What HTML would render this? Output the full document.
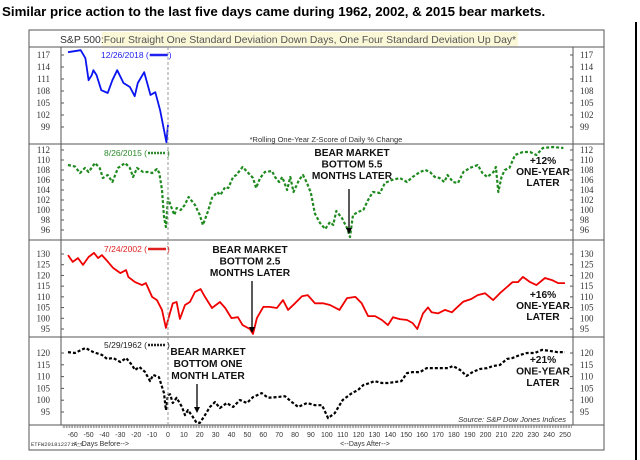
<!DOCTYPE html>
<html><head><meta charset="utf-8"><style>
body{margin:0;background:#fff;width:640px;height:460px;overflow:hidden;font-family:"Liberation Sans",Arial,sans-serif}
svg{position:absolute;left:0;top:0}
</style></head><body>
<svg id="c" width="640" height="460" xmlns="http://www.w3.org/2000/svg"></svg>
<script>
const blueDays=[-63,-55,-52,-50,-48,-47,-45,-42,-38,-35,-32,-28,-24,-21,-19,-15,-11,-8,-5,-1,0];
const blueVals=[117.7,118.2,116.2,110.7,112,113.2,112,108.2,107.5,110.7,113.2,110,109,106.7,110,112.7,107,107.7,103.2,95.2,99.5];
const greenDays=[-63,-58.6,-55.4,-52.3,-50,-46,-43,-41,-38,-35,-31.5,-27,-24,-22,-19.5,-15.7,-12.6,-10,-7,-5.5,-3.8,-2.5,-1.3,0,2,4,5.5,8,10.5,13,17,20,22,25,27.7,31,33,36,38,41,43,47,50,53.5,55.5,58,61,65.5,67.4,70,72,75,77,79,82.5,85,87.5,90,92.5,95.7,99,102,104,106,109.5,112.7,114.6,116.5,119.6,123,126,129,133.5,136.6,141,146,150.5,154,158.7,162,165,168,171,174,176,179.5,182.6,186,190,195,198,201,205,206.5,208,210,212,215,218.5,223.5,228,232,236,242.5,249];
const greenVals=[109,108.7,107.4,108.4,107.6,109.4,108.4,106.4,107,105.6,108.4,109.4,108.4,106.6,108.4,107.6,107.6,107.4,108.2,107.4,104,98.6,96.6,102.4,100.6,99,100.4,100,101,102.6,101,99,97,99.6,102.4,103.6,103,104.6,104.4,106.6,107,108.6,107.6,106.4,104.4,106.4,107.6,107.8,106.6,105.6,106.6,104,106.6,103.6,106,107,105.4,103.4,99.3,97.4,96.2,97.6,97,99.8,98.4,96.4,94.6,99,99.6,100,102,103.6,103.4,105.4,106,106.4,105.6,106.6,107.6,108,107.6,106.6,106.4,105.6,107,105.6,105.4,107.6,108.4,109,107.4,106.6,107.6,108.6,103.6,106.6,108,108.4,111,111.6,111.6,111,112.4,112.6,112.4];
const redDays=[-63,-60,-56.7,-53.5,-50,-46.6,-44,-41.6,-37.8,-34.6,-30,-26.4,-25,-20.8,-16.4,-13.9,-10,-7,-3.8,-1.3,0,3,5.4,7.5,10.7,13.8,17,20.5,23.3,27.7,32.7,36,40,44,47,51.6,53.5,56,60,64,68.6,72.4,75.6,80,84.4,88,92.6,97.6,102,108,112.7,118,122,126,130.4,134.7,138.5,141.7,146,150.5,154,157,160.6,163.7,166,170,174.4,178.8,182,186,191,195,199.6,204.7,209,213.5,217,220.4,223.5,228,232,237.4,241.8,245.6,250];
const redVals=[129.5,126.3,128.1,124.9,128.6,130.5,128.1,129.5,126.3,123.5,121.1,122.5,119.3,116.9,115.5,116.4,110,108.5,103.9,95.5,99.2,107,107.6,99.7,106.2,107.6,112.3,113.6,110,104.8,107.6,104.8,100.1,100.5,96.8,95,92.7,100.1,105.3,105.3,104.8,108.5,103.9,107,110.3,110.8,107,107,106.2,103.9,109.4,110,107,101,101,99.2,96.8,100.5,99.6,99.2,97.8,95,102.3,105.1,102.8,102.3,103.9,102.8,105.1,107.8,109,110.8,111.7,108.5,111.7,114.6,116.9,116.9,119.3,116.9,115.5,118.8,117.8,116.4,116.4];
const blackDays=[-63,-58.6,-52,-47,-41.6,-38.4,-34.6,-30,-26.4,-22.7,-20.8,-18,-14.5,-11.3,-9.4,-5.7,-2.5,-1.3,0,1.3,3,5.4,8.8,10.7,12.6,15.7,18,20,23.3,26.4,29.6,32.7,37,41,45.3,49.7,53.5,59,63,68.6,73.6,78,82,87.5,92.6,97,100.8,105,110,115.8,119.6,123,127,130,134.7,138.5,143,147,150.5,154,158.7,163,167,172.5,176.3,179.5,184,188,192,196.5,201,204.7,209,213.5,217,221.7,226,231,235.5,240.5,245,250];
const blackVals=[120.4,120,122.1,120.4,119.2,117.5,117.9,116.2,117.9,114.9,112.8,114.1,112,108.1,110.7,109.8,103,95.8,102.2,102.5,98.8,101,97.1,93.7,95.8,92.9,90.4,90.4,93.7,97.1,99.2,96.7,98.8,97.1,100.1,98.8,101.3,103,101,101.3,101.7,99.2,97.1,98.8,97.9,97.9,92.4,94.5,100.1,103,104.3,106.4,107.3,108.1,107.3,107.3,107.7,108.1,111.5,111.9,111.9,113.6,113.6,113.6,113.6,114.5,112.8,110.3,112,113.2,113.6,114.5,114.9,117.5,117.9,119.2,120,120,121.3,120.9,120.4,120.4];
const xTicks=[-60,-50,-40,-30,-20,-10,0,10,20,30,40,50,60,70,80,90,100,110,120,130,140,150,160,170,180,190,200,210,220,230,240,250];
const blueTicks=[117,114,111,108,105,102,99];
const greenTicks=[112,110,108,106,104,102,100,98,96];
const redTicks=[130,125,120,115,110,105,100,95];
const blackTicks=[120,115,110,105,100,95];

const NS='http://www.w3.org/2000/svg';
const svg=document.getElementById('c');
function mk(tag,attrs,parent){const e=document.createElementNS(NS,tag);for(const k in attrs)e.setAttribute(k,attrs[k]);(parent||svg).appendChild(e);return e;}
function txt(s,x,y,attrs){const t=mk('text',Object.assign({x:x,y:y},attrs||{}));t.textContent=s;return t;}
const xS=d=>168+d*1.588;
const panels=[
 {top:47,bot:144,y:v=>55+(117-v)*4,ticks:blueTicks,days:blueDays,vals:blueVals,color:'#0a14f0',dash:null,name:'2018'},
 {top:144,bot:240,y:v=>150+(112-v)*5,ticks:greenTicks,days:greenDays,vals:greenVals,color:'#1f8a1f',dash:'3,2',name:'2015'},
 {top:240,bot:337,y:v=>254+(130-v)*2.143,ticks:redTicks,days:redDays,vals:redVals,color:'#f00000',dash:null,name:'2002'},
 {top:337,bot:425,y:v=>353+(120-v)*2.36,ticks:blackTicks,days:blackDays,vals:blackVals,color:'#000',dash:'3,2',name:'1962'}
];
let t=txt('Similar price action to the last five days came during 1962, 2002, & 2015 bear markets.',2,16,{'font-size':'13.3','font-weight':'bold','fill':'#000'});


let fr=mk('rect',{x:29,y:30,width:575,height:420,fill:'none',stroke:'#555','stroke-width':1});


let rl=mk('line',{x1:636,y1:22,x2:636,y2:460,stroke:'#000','stroke-width':2});


const hl=mk('rect',{x:0,y:32,width:0,height:14,fill:'#fbf8d8'});
let ct1=txt('S&P 500: ',60,43,{'font-size':'10.4',fill:'#333'});


const w1=ct1.getComputedTextLength();
let ct2=txt('Four Straight One Standard Deviation Down Days, One Four Standard Deviation Up Day*',60+w1,43,{'font-size':'10.4',fill:'#555'});


hl.setAttribute('x',60+w1-2);hl.setAttribute('width',ct2.getComputedTextLength()+4);
mk('line',{x1:29,y1:47,x2:604,y2:47,stroke:'#555'});
mk('line',{x1:61,y1:47,x2:61,y2:425,stroke:'#555'});
mk('line',{x1:573,y1:47,x2:573,y2:425,stroke:'#555'});
mk('line',{x1:29,y1:425,x2:604,y2:425,stroke:'#555'});
panels.forEach((p,i)=>{
  if(i>0){mk('line',{x1:29,y1:p.top,x2:604,y2:p.top,stroke:'#555'});}
  const g=mk('g',{});
  
  
  p.ticks.forEach(v=>{
    const y=p.y(v);
    mk('line',{x1:61,y1:y,x2:64,y2:y,stroke:'#555'},g);
    mk('line',{x1:570,y1:y,x2:573,y2:y,stroke:'#555'},g);
    let a=txt(String(v),50,y+3,{'font-size':'9','text-anchor':'end','font-family':'Liberation Serif,serif',fill:'#333'});
    
    
    g.appendChild(a);
    let b=txt(String(v),580,y+3,{'font-size':'9','font-family':'Liberation Serif,serif',fill:'#333'});
    
    
    g.appendChild(b);
  });
  let d='';
  p.days.forEach((dd,k)=>{d+=(k?'L':'M')+xS(dd).toFixed(1)+','+p.y(p.vals[k]).toFixed(1);});
  const attrs={d:d,fill:'none',stroke:p.color,'stroke-width':p.dash?2.2:1.8,'stroke-linejoin':'round'};
  if(p.dash)attrs['stroke-dasharray']=p.dash;
  const path=mk('path',attrs,g);
  
  
});
let zl=mk('line',{x1:168,y1:47,x2:168,y2:425,stroke:'#999','stroke-dasharray':'3,2'});


const legs=[['12/26/2018 (','#2222ee',101,58,null],['8/26/2015 (','#2e8b2e',104,156,'2,1'],['7/24/2002 (','#e02020',104,252,null],['5/29/1962 (','#222',104,348,'2,1']];
legs.forEach(l=>{
  const tt=txt(l[0],l[2],l[3],{'font-size':'8.5',fill:l[1]});
  
  
  const w=tt.getComputedTextLength();
  const la={x1:l[2]+w+1,y1:l[3]-3,x2:l[2]+w+19,y2:l[3]-3,stroke:l[1],'stroke-width':2.5};
  if(l[4])la['stroke-dasharray']=l[4];
  mk('line',la);
  txt(')',l[2]+w+20,l[3],{'font-size':'8.5',fill:l[1]});
});
let fn=txt('*Rolling One-Year Z-Score of Daily % Change',326,142,{'font-size':'7.5','text-anchor':'middle',fill:'#333'});


function ann(lines,cx,y0,lh,name){const g=mk('g',{});
 lines.forEach((s,k)=>{g.appendChild(txt(s,cx,y0+k*lh,{'font-size':'10.2','font-weight':'bold','text-anchor':'middle',fill:'#111'}));});}
function arrow(x,y1,y2){mk('line',{x1:x,y1:y1,x2:x,y2:y2-4,stroke:'#000','stroke-width':1.3});mk('path',{d:`M${x-3},${y2-6}L${x+3},${y2-6}L${x},${y2}Z`,fill:'#000'});}
ann(['BEAR MARKET','BOTTOM 5.5','MONTHS LATER'],352,156,11.5,'annotation-2015-bottom');arrow(349,189,234);
ann(['+12%','ONE-YEAR','LATER'],543,164,11,'annotation-2015-return');
ann(['BEAR MARKET','BOTTOM 2.5','MONTHS LATER'],250,253,11.5,'annotation-2002-bottom');arrow(252,281,333);
ann(['+16%','ONE-YEAR','LATER'],543,298,11,'annotation-2002-return');
ann(['BEAR MARKET','BOTTOM ONE','MONTH LATER'],208,355,12,'annotation-1962-bottom');arrow(197,384,413);
ann(['+21%','ONE-YEAR','LATER'],543,363,11.5,'annotation-1962-return');
let src=txt('Source: S&P Dow Jones Indices',566,422,{'font-size':'7.5','font-style':'italic','text-anchor':'end',fill:'#333'});


for(let d=-66;d<=254;d+=1){mk('line',{x1:xS(d),y1:425,x2:xS(d),y2:428,stroke:'#666','stroke-width':0.6});}
xTicks.forEach(v=>{const a=txt(String(v),xS(v),437,{'font-size':'7','text-anchor':'middle',fill:'#333'});
 
 });
txt('<--Days Before-->',73,446,{'font-size':'7',fill:'#333'});
txt('<--Days After-->',365,446,{'font-size':'7','text-anchor':'middle',fill:'#333'});
txt('ETFW201812271A_C',31,446,{'font-size':'5.5','font-family':'Liberation Mono,monospace',fill:'#333'});
</script>
</body></html>
